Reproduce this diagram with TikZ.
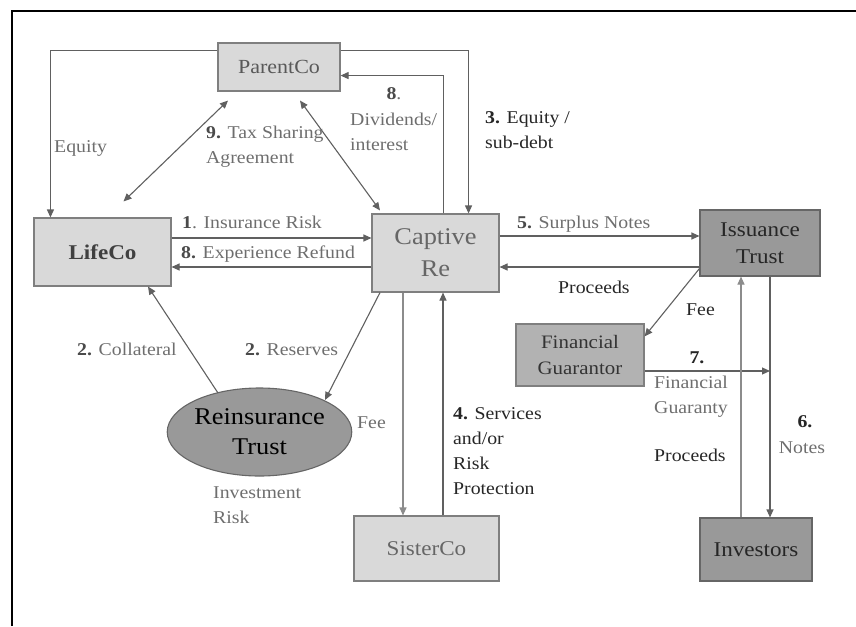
\documentclass[tikz,border=0pt]{standalone}
\usepackage{fontspec}
\setmainfont{Liberation Serif}[FakeStretch=1.1]
\usetikzlibrary{arrows.meta,shapes.geometric}
\definecolor{lightbox}{HTML}{D9D9D9}
\definecolor{midbox}{HTML}{B2B2B2}
\definecolor{darkbox}{HTML}{999999}
\definecolor{boxline}{HTML}{7F7F7F}
\definecolor{linegray}{HTML}{606060}
\definecolor{palegray}{HTML}{8C8C8C}
\definecolor{labgray}{HTML}{6E6E6E}
\definecolor{labdark}{HTML}{262626}
\definecolor{numgray}{HTML}{4A4A4A}
\begin{document}
\begin{tikzpicture}[x=1pt,y=-1pt,
  box/.style={draw=boxline,line width=1.1pt,inner sep=0pt,align=center},
  lbox/.style={box,fill=lightbox},
  mbox/.style={box,fill=midbox},
  dbox/.style={box,fill=darkbox,draw=black!60},
  conn/.style={draw=linegray,line width=1.1pt,-{Triangle[length=8pt,width=7pt]}},
  dconn/.style={draw=linegray,line width=1.1pt,{Triangle[length=8pt,width=7pt]}-{Triangle[length=8pt,width=7pt]}},
  pconn/.style={conn,draw=palegray},
  lab/.style={inner sep=0pt,align=left,text=labgray,font=\fontsize{18}{25}\selectfont},
  labd/.style={lab,text=labdark},
]
\useasboundingbox (0,0) rectangle (856,626);
\draw[black,line width=1.3pt] (12,626) -- (12,11) -- (856,11);

% nodes
\node[lbox,minimum width=122pt,minimum height=48pt,text=black!65,font=\fontsize{20}{24}\selectfont] (parent) at (279,67) {ParentCo};
\node[lbox,minimum width=137pt,minimum height=68pt,text=black!75,font=\bfseries\fontsize{21}{25}\selectfont] (life) at (102.5,252) {LifeCo};
\node[lbox,minimum width=127pt,minimum height=78pt,text=black!60,font=\fontsize{24}{32}\selectfont] (captive) at (435.5,253) {Captive\\Re};
\node[dbox,minimum width=120pt,minimum height=66pt,text=black!85,font=\fontsize{21}{27}\selectfont] (issue) at (760,243) {Issuance\\Trust};
\node[mbox,minimum width=128pt,minimum height=62pt,text=black!80,font=\fontsize{19}{26}\selectfont] (fg) at (580,355) {Financial\\Guarantor};
\node[dbox,minimum width=112pt,minimum height=63pt,text=black!85,font=\fontsize{21}{25}\selectfont] (inv) at (756,549.5) {Investors};
\node[lbox,minimum width=145pt,minimum height=65pt,text=black!60,font=\fontsize{21}{25}\selectfont] (sister) at (426.5,548.5) {SisterCo};
\node[ellipse,draw=black!60,line width=1.1pt,fill=darkbox,inner sep=0pt,minimum width=161pt,minimum height=88pt,align=center,text=black,font=\fontsize{24}{30}\selectfont] (reins) at (259.5,432) {Reinsurance\\Trust};

% connectors
\draw[conn] ([yshift=-8pt]parent.north west) -| ([xshift=17pt]life.north west);
\draw[conn] ([yshift=-8pt]parent.north east) -| ([xshift=-31pt]captive.north east);
\draw[conn] ([xshift=-56pt]captive.north east) |- ([yshift=16pt]parent.south east);
\draw[dconn] ([shift={(21pt,16pt)}]life.north) -- ([shift={(-51pt,-9pt)}]parent.south);
\draw[dconn] ([shift={(21pt,-9pt)}]parent.south) -- ([shift={(-55.5pt,3pt)}]captive.north);
\draw[conn] ([yshift=14pt]life.east) -- ([yshift=14pt]life.east -| captive.west);
\draw[conn] ([yshift=-15pt]life.east -| captive.west) -- ([yshift=-15pt]life.east);
\draw[conn] ([yshift=17pt]captive.east) -- ([yshift=17pt]captive.east -| issue.west);
\draw[conn] ([yshift=-14pt]captive.east -| issue.west) -- ([yshift=-14pt]captive.east);
\draw[conn] ([yshift=8pt]issue.south west) -- ([yshift=-13pt]fg.north east);
\coordinate (nx) at ([xshift=10pt]issue.south);
\coordinate (px) at ([xshift=-19pt]issue.south);
\draw[conn] ([yshift=-16pt]fg.east) -- ([yshift=-16pt]fg.east -| nx);
\draw[pconn] (px |- inv.north) -- (px);
\draw[conn] (nx) -- (nx |- inv.north);
\draw[conn] ([shift={(-41.5pt,39pt)}]reins.center) -- ([xshift=45.5pt]life.south);
\draw[conn] ([xshift=-55.5pt]captive.south) -- ([shift={(65.5pt,32pt)}]reins.center);
\draw[pconn] ([xshift=-32.5pt]captive.south) -- ([xshift=-32.5pt]captive.south |- sister.north);
\draw[conn] ([xshift=7.5pt]captive.south |- sister.north) -- ([xshift=7.5pt]captive.south);

% labels
\node[lab,anchor=base west] (lequity) at (54,152) {Equity};
\node[lab,anchor=north west] (ltax) at (206,126) {\textbf{\color{numgray}9.} Tax Sharing\\Agreement};
\node[lab,anchor=base] (ldiv8) at (394,99) {\textbf{\color{numgray}8}.};
\node[lab,anchor=north west] (ldiv) at (350,113) {Dividends/\\interest};
\node[labd,anchor=north west] (lsub) at (485,111) {\textbf{3.} Equity /\\sub-debt};
\node[lab,anchor=base west] (lins) at (182,228) {\textbf{\color{numgray}1}. Insurance Risk};
\node[lab,anchor=base west] (lexp) at (181,258) {\textbf{\color{numgray}8.} Experience Refund};
\node[lab,anchor=base west] (lsur) at (517,228) {\textbf{\color{numgray}5.} Surplus Notes};
\node[labd,anchor=base west] (lproc1) at (558,293) {Proceeds};
\node[labd,anchor=base west] (lfee1) at (686,315) {Fee};
\node[labd,anchor=base] (l7) at (697,363) {\textbf{7.}};
\node[lab,anchor=north west] (lfinG) at (654,376) {Financial\\Guaranty};
\node[labd,anchor=base west] (lproc2) at (654,461) {Proceeds};
\node[labd,anchor=base] (l6) at (805,427) {\textbf{6.}};
\node[lab,anchor=base] (lnotes) at (802,453) {Notes};
\node[lab,anchor=base west] (lcol) at (77,355) {\textbf{\color{numgray}2.} Collateral};
\node[lab,anchor=base west] (lres) at (245,355) {\textbf{\color{numgray}2.} Reserves};
\node[lab,anchor=base west] (lfee2) at (357,428) {Fee};
\node[labd,anchor=north west] (lserv) at (453,407) {\textbf{4.} Services\\and/or\\Risk\\Protection};
\node[lab,anchor=north west] (linv) at (213,487) {Investment\\Risk};
\end{tikzpicture}
\end{document}
